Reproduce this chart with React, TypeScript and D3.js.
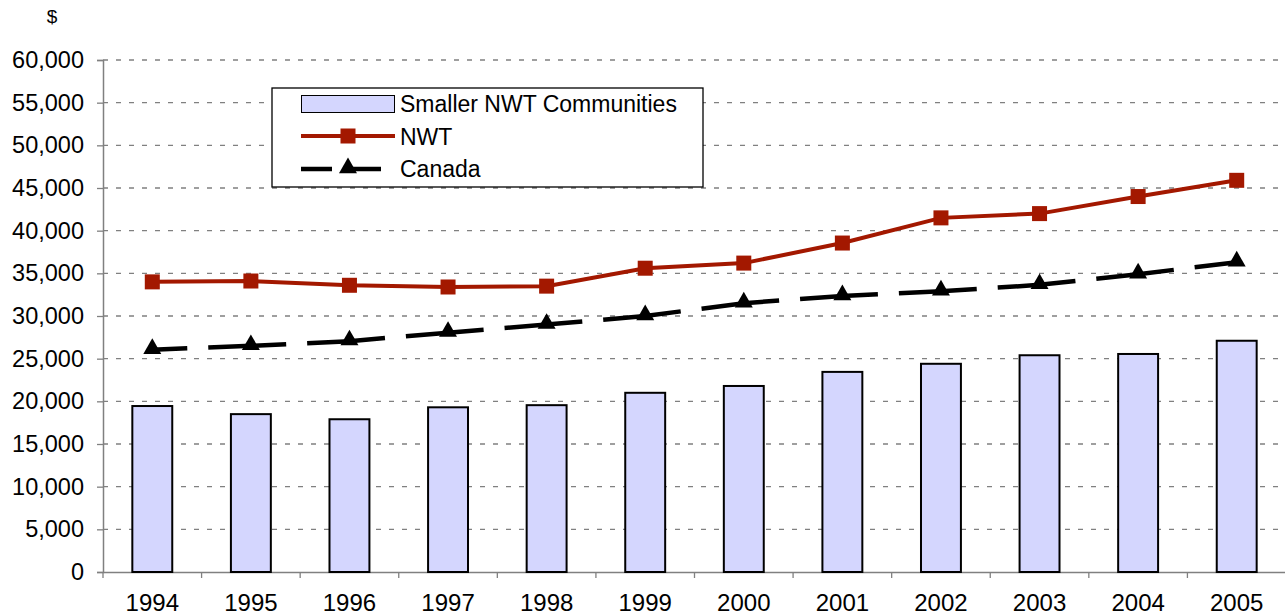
import React, { useRef, useEffect } from "react"
import * as d3 from "d3"

const years = ["1994", "1995", "1996", "1997", "1998", "1999", "2000", "2001", "2002", "2003", "2004", "2005"]
const smallerCommunities = [19450, 18500, 17900, 19300, 19550, 21000, 21800, 23450, 24400, 25400, 25550, 27100]
const nwt = [34000, 34100, 33600, 33400, 33500, 35600, 36200, 38550, 41500, 42000, 44000, 45900]
const canada = [26050, 26500, 27050, 28050, 29000, 30000, 31500, 32350, 32900, 33650, 34900, 36300]
const yTicks = [0, 5000, 10000, 15000, 20000, 25000, 30000, 35000, 40000, 45000, 50000, 55000, 60000]

const BAR_FILL = "#d4d6fe"
const NWT_RED = "#a31800"
const FONT = "'Liberation Sans', Arial, sans-serif"

const App: React.FC = () => {
  const svgRef = useRef<SVGSVGElement | null>(null)
  const width = 1285
  const height = 615

  useEffect(() => {
    const svg = d3.select(svgRef.current)
    svg.selectAll("*").remove()

    const margin = { top: 60, right: -1, bottom: 43, left: 103 }

    const x = d3.scaleBand<string>()
      .domain(years)
      .range([margin.left, width - margin.right])

    const y = d3.scaleLinear()
      .domain([0, 60000])
      .range([height - margin.bottom, margin.top])

    const cx = (i: number) => (x(years[i]) as number) + x.bandwidth() / 2

    // gridlines
    svg.append("g")
      .selectAll("line")
      .data(yTicks.filter(t => t > 0))
      .enter()
      .append("line")
      .attr("x1", margin.left)
      .attr("x2", width - 4)
      .attr("y1", d => y(d))
      .attr("y2", d => y(d))
      .attr("stroke", "#808080")
      .attr("stroke-width", 1.3)
      .attr("stroke-dasharray", "5,8")

    // y axis
    const yAxis = d3.axisLeft(y)
      .tickValues(yTicks)
      .tickSize(6)
      .tickPadding(13)
      .tickFormat(d3.format(","))

    svg.append("g")
      .attr("transform", `translate(${margin.left},0)`)
      .call(yAxis)
      .call(g => g.select(".domain").attr("stroke", "#808080").attr("stroke-width", 1.5))
      .call(g => g.selectAll(".tick line").attr("stroke", "#808080").attr("stroke-width", 1.3))
      .call(g => g.selectAll(".tick text")
        .attr("font-family", FONT)
        .attr("font-size", 23.5)
        .attr("fill", "#000"))

    // x axis
    const xAxis = d3.axisBottom(x).tickSize(0).tickPadding(22)
    const gx = svg.append("g")
      .attr("transform", `translate(0,${y(0)})`)
      .call(xAxis)
      .call(g => g.select(".domain").attr("stroke", "#808080").attr("stroke-width", 1.5))
      .call(g => g.selectAll(".tick text")
        .attr("font-family", FONT)
        .attr("font-size", 24)
        .attr("fill", "#000"))

    gx.selectAll("line.sep")
      .data(years)
      .enter()
      .append("line")
      .attr("class", "sep")
      .attr("x1", d => x(d) as number)
      .attr("x2", d => x(d) as number)
      .attr("y1", 0)
      .attr("y2", 6)
      .attr("stroke", "#808080")
      .attr("stroke-width", 1.3)

    // bars
    const barW = x.bandwidth() * 0.405
    svg.append("g")
      .selectAll("rect")
      .data(smallerCommunities)
      .enter()
      .append("rect")
      .attr("x", (_d, i) => cx(i) - barW / 2)
      .attr("width", barW)
      .attr("y", d => y(d))
      .attr("height", d => y(0) - y(d))
      .attr("fill", BAR_FILL)
      .attr("stroke", "#000")
      .attr("stroke-width", 2)

    const line = d3.line<number>()
      .x((_d, i) => cx(i))
      .y(d => y(d))

    // Canada
    svg.append("path")
      .datum(canada)
      .attr("d", line)
      .attr("fill", "none")
      .attr("stroke", "#000")
      .attr("stroke-width", 4.5)
      .attr("stroke-dasharray", "78,21")
      .attr("stroke-dashoffset", 43)

    const tri = d3.symbol().type(d3.symbolTriangle).size(140)
    svg.append("g")
      .selectAll("path")
      .data(canada)
      .enter()
      .append("path")
      .attr("d", tri)
      .attr("transform", (d, i) => `translate(${cx(i)},${y(d) - 1})`)
      .attr("fill", "#000")

    // NWT
    svg.append("path")
      .datum(nwt)
      .attr("d", line)
      .attr("fill", "none")
      .attr("stroke", NWT_RED)
      .attr("stroke-width", 4)

    const sq = 15
    svg.append("g")
      .selectAll("rect")
      .data(nwt)
      .enter()
      .append("rect")
      .attr("x", (_d, i) => cx(i) - sq / 2)
      .attr("y", d => y(d) - sq / 2)
      .attr("width", sq)
      .attr("height", sq)
      .attr("fill", NWT_RED)

    // "$" unit label
    svg.append("text")
      .attr("x", 52)
      .attr("y", 23)
      .attr("text-anchor", "middle")
      .attr("font-family", FONT)
      .attr("font-size", 19)
      .text("$")

    // legend
    const legend = svg.append("g").attr("transform", "translate(272,88)")
    legend.append("rect")
      .attr("width", 431)
      .attr("height", 99)
      .attr("fill", "#fff")
      .attr("stroke", "#000")
      .attr("stroke-width", 1.3)

    legend.append("rect")
      .attr("x", 29.5).attr("y", 7.5)
      .attr("width", 93).attr("height", 17)
      .attr("fill", BAR_FILL)
      .attr("stroke", "#000")
      .attr("stroke-width", 1)

    legend.append("line")
      .attr("x1", 29).attr("x2", 123)
      .attr("y1", 48).attr("y2", 48)
      .attr("stroke", NWT_RED).attr("stroke-width", 4)
    legend.append("rect")
      .attr("x", 68.5).attr("y", 40.5)
      .attr("width", 15).attr("height", 15)
      .attr("fill", NWT_RED)

    legend.append("line")
      .attr("x1", 29).attr("x2", 123)
      .attr("y1", 81).attr("y2", 81)
      .attr("stroke", "#000").attr("stroke-width", 4.5)
      .attr("stroke-dasharray", "31,18,31")
    legend.append("path")
      .attr("d", tri)
      .attr("transform", "translate(76,80)")
      .attr("fill", "#000")

    const labels = ["Smaller NWT Communities", "NWT", "Canada"]
    legend.selectAll("text.lbl")
      .data(labels)
      .enter()
      .append("text")
      .attr("class", "lbl")
      .attr("x", 128)
      .attr("y", (_d, i) => 24 + i * 32.5)
      .attr("font-family", FONT)
      .attr("font-size", 23)
      .text(d => d)
  }, [])

  return (
    <svg
      ref={svgRef}
      width={width}
      height={height}
      style={{ position: "absolute", left: 0, top: 0, background: "#fff" }}
    />
  )
}

export default App
